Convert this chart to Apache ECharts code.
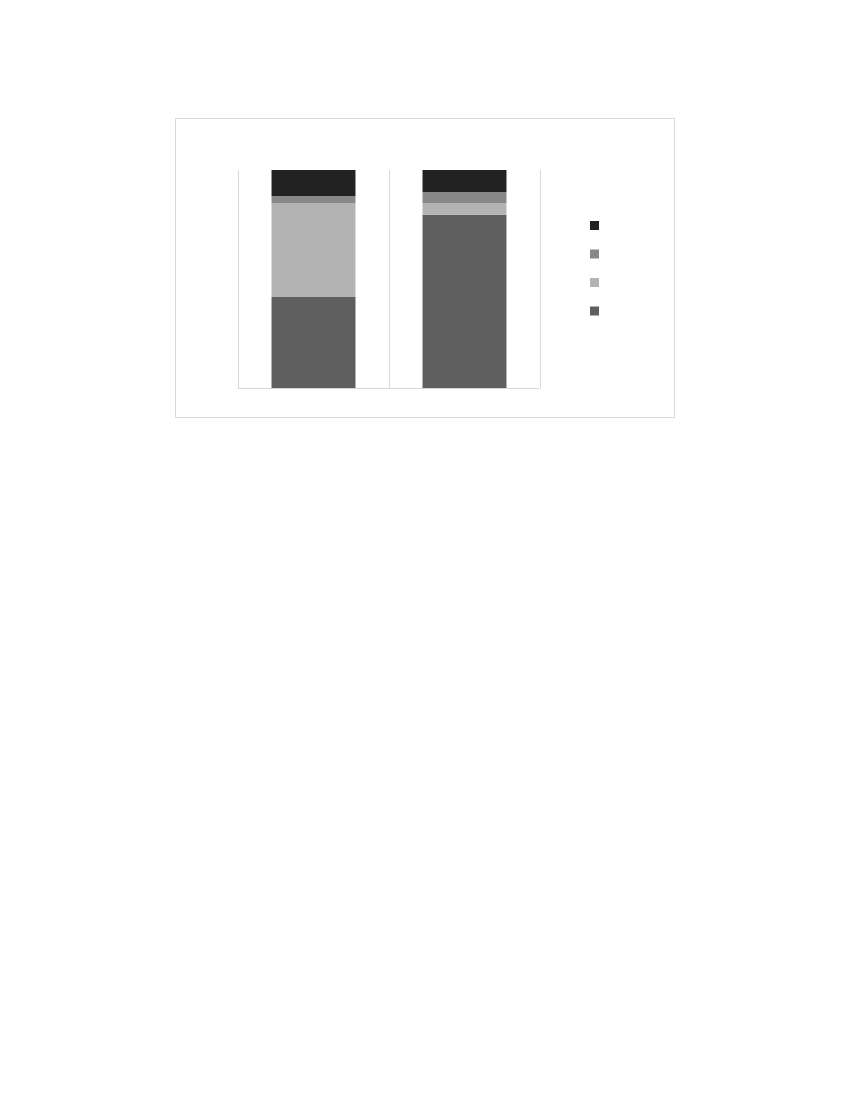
<!DOCTYPE html>
<html><head><meta charset="utf-8">
<script src="https://cdn.jsdelivr.net/npm/echarts@6/dist/echarts.min.js"></script>
<style>html,body{margin:0;padding:0;background:#fff}#c{width:850px;height:1100px}</style>
</head><body><div id="c"></div>
<script>
const categories = ['A', 'B'];
const seriesNames = ['S1', 'S2', 'S3', 'S4'];
const s1 = [41.7, 79.5];
const s2 = [43.1, 5.4];
const s3 = [3.2, 5.0];
const s4 = [12.0, 10.1];
const colors = ['#5f5f5f', '#b3b3b3', '#888888', '#222222'];
const values = [s1, s2, s3, s4];

const chart = echarts.init(document.getElementById('c'), null, {renderer: 'canvas'});
chart.setOption({
  animation: false,
  backgroundColor: '#ffffff',
  graphic: [{
    type: 'rect',
    shape: {x: 175.5, y: 118.5, width: 499, height: 299},
    style: {fill: 'none', stroke: '#d9d9d9', lineWidth: 1}
  }],
  grid: {left: 238, top: 170, width: 302, height: 218, containLabel: false},
  legend: {
    orient: 'vertical', left: 585, top: 216,
    itemWidth: 9, itemHeight: 9, itemGap: 19.5,
    icon: 'rect',
    data: seriesNames.slice().reverse(),
    formatter: () => '',
    textStyle: {fontSize: 1}
  },
  xAxis: {
    type: 'category', data: categories,
    axisLine: {show: true, lineStyle: {color: '#d9d9d9', width: 1}},
    axisTick: {show: false},
    axisLabel: {show: false},
    splitLine: {show: true, interval: 0, lineStyle: {color: '#d9d9d9', width: 1}}
  },
  yAxis: {
    type: 'value', min: 0, max: 100,
    show: false, splitLine: {show: false}
  },
  series: seriesNames.map((n, i) => ({
    name: n, type: 'bar', stack: 'total', barWidth: '55.6%',
    data: values[i], itemStyle: {color: colors[i]}
  }))
});
</script></body></html>
